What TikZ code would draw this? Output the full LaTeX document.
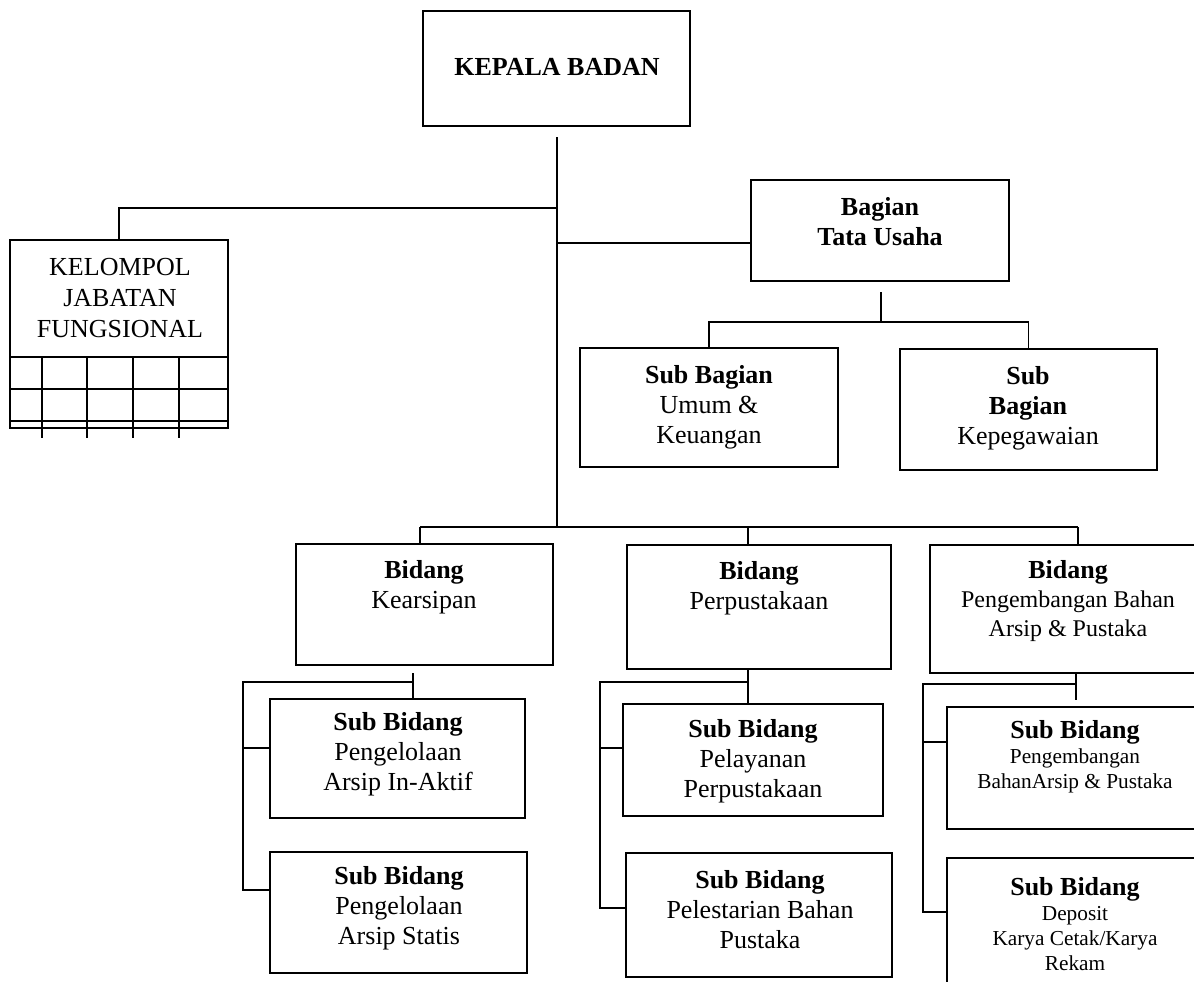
\documentclass[tikz,border=0pt]{standalone}
\usepackage{fontspec}
\setmainfont{Liberation Serif}
\begin{document}
\begin{tikzpicture}[x=1pt,y=-1pt, line width=1.6pt,
  box/.style={draw, inner sep=0pt, outer sep=0pt},
  txt/.style={align=center, font=\fontsize{26}{30}\selectfont, inner sep=0pt},
  smalltxt/.style={align=center, font=\fontsize{21.3}{25}\selectfont, inner sep=0pt},
  midtxt/.style={align=center, font=\fontsize{24}{29}\selectfont, inner sep=0pt}]
\useasboundingbox (0,0) rectangle (1194,982);
\clip (0,0) rectangle (1194,982);
% boxes
\node[box, minimum width=267pt, minimum height=115pt] (kb) at (556.5,68.5) {};
\node[box, minimum width=258pt, minimum height=101pt] (bag) at (880,230.5) {};
\node[box, minimum width=258pt, minimum height=119pt] (umum) at (709,407.5) {};
\node[box, minimum width=257pt, minimum height=121pt] (kepeg) at (1028.5,409.5) {};
\node[box, minimum width=218pt, minimum height=188pt] (kel) at (119,334) {};
\node[box, minimum width=257pt, minimum height=121pt] (kear) at (424.5,604.5) {};
\node[box, minimum width=264pt, minimum height=124pt] (perp) at (759,607) {};
\node[box, minimum width=276pt, minimum height=128pt] (peng) at (1068,609) {};
\node[box, minimum width=255pt, minimum height=119pt] (inaktif) at (397.5,758.5) {};
\node[box, minimum width=257pt, minimum height=121pt] (statis) at (398.5,912.5) {};
\node[box, minimum width=260pt, minimum height=112pt] (pelay) at (753,760) {};
\node[box, minimum width=266pt, minimum height=124pt] (pelest) at (759,915) {};
\node[box, minimum width=258pt, minimum height=122pt] (pbahan) at (1076,768) {};
\node[box, minimum width=258pt, minimum height=142pt] (deposit) at (1076,929) {};
% grid of the Kelompok box
\foreach \y in {357,389,421} \draw (10,\y) -- (228,\y);
\foreach \x in {42,87,133,179} \draw (\x,357) -- (\x,438);
% texts
\node[txt, font=\fontsize{26}{30}\selectfont\bfseries] (tkb) at (557,67) {KEPALA BADAN};
\node[txt, font=\fontsize{26}{30}\selectfont\bfseries] (tbag) at (880,222) {Bagian\\Tata Usaha};
\node[txt] (tumum) at (709,407) {\textbf{Sub Bagian}\\Umum \&\\Keuangan};
\node[txt] (tkepeg) at (1028,408) {\textbf{Sub}\\\textbf{Bagian}\\Kepegawaian};
\node[txt, font=\fontsize{26}{31}\selectfont] (tkel) at (120,298) {KELOMPOL\\JABATAN\\FUNGSIONAL};
\node[txt] (tkear) at (424,587) {\textbf{Bidang}\\Kearsipan};
\node[txt] (tperp) at (759,588) {\textbf{Bidang}\\Perpustakaan};
\node[midtxt] (tpeng) at (1068,601) {\textbf{\fontsize{26}{29}\selectfont Bidang}\\Pengembangan Bahan\\Arsip \& Pustaka};
\node[txt] (tinaktif) at (398,754) {\textbf{Sub Bidang}\\Pengelolaan\\Arsip In-Aktif};
\node[txt] (tstatis) at (399,908) {\textbf{Sub Bidang}\\Pengelolaan\\Arsip Statis};
\node[txt] (tpelay) at (753,761) {\textbf{Sub Bidang}\\Pelayanan\\Perpustakaan};
\node[txt] (tpelest) at (760,910) {\textbf{Sub Bidang}\\Pelestarian Bahan\\Pustaka};
\node[smalltxt] (tpbahan) at (1075,757) {\textbf{\fontsize{26}{25}\selectfont Sub Bidang}\\Pengembangan\\BahanArsip \& Pustaka};
\node[smalltxt] (tdeposit) at (1075,924) {\textbf{\fontsize{26}{25}\selectfont Sub Bidang}\\Deposit\\Karya Cetak/Karya\\Rekam};
% connectors
\coordinate (trTop) at (557,137);
\coordinate (trBot) at (557,527);
\draw (trTop) -- (trBot);
\coordinate (jL) at (557,208);
\draw (jL) -| (kel.north);
\coordinate (jR) at (557,243);
\draw (jR) -- (jR -| bag.west);
\coordinate (bagT) at (881,292);
\coordinate (bagB) at (881,322);
\draw (bagT) -- (bagB);
\draw (umum.north) |- (bagB) -| (kepeg.north);
\coordinate (b1) at (420,527);
\coordinate (b2) at (748,527);
\coordinate (b3) at (1078,527);
\draw (b1) -- (b3);
\draw (b1) -- (b1 |- kear.north);
\draw (b2) -- (b2 |- perp.north);
\draw (b3) -- (b3 |- peng.north);
% Kearsipan subs
\coordinate (k0) at (413,673);
\coordinate (k1) at (413,682);
\coordinate (kL) at (243,682);
\coordinate (kA) at (243,748);
\coordinate (kB) at (243,890);
\draw (k0) -- (k0 |- inaktif.north);
\draw (k1) -- (kL) -- (kB) -- (kB -| statis.west);
\draw (kA) -- (kA -| inaktif.west);
% Perpustakaan subs
\coordinate (p1) at (748,682);
\coordinate (pL) at (600,682);
\coordinate (pA) at (600,748);
\coordinate (pB) at (600,908);
\draw (p1 |- perp.south) -- (p1 |- pelay.north);
\draw (p1) -- (pL) -- (pB) -- (pB -| pelest.west);
\draw (pA) -- (pA -| pelay.west);
% Pengembangan subs
\coordinate (g1) at (1076,684);
\coordinate (gL) at (923,684);
\coordinate (gA) at (923,742);
\coordinate (gB) at (923,912);
\draw (g1 |- peng.south) -- (1076,700);
\draw (g1) -- (gL) -- (gB) -- (gB -| deposit.west);
\draw (gA) -- (gA -| pbahan.west);
\end{tikzpicture}
\end{document}
